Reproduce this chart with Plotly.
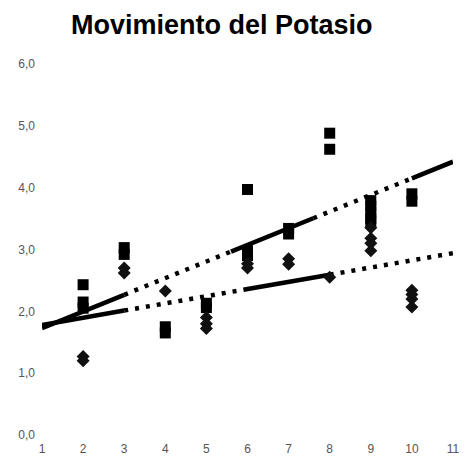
import plotly.graph_objects as go

# Potassium readings per sampling point (squares: series A, diamonds: series B)
sq_x = [2, 2, 2, 3, 3, 4, 4, 5, 5, 6, 6, 6, 7, 7, 8, 8, 9, 9, 9, 9, 9, 10, 10]
sq_y = [2.43, 2.15, 2.05, 3.03, 2.92, 1.75, 1.65, 2.13, 2.06, 3.97, 2.98, 2.90,
        3.34, 3.25, 4.88, 4.62, 3.79, 3.70, 3.60, 3.50, 3.44, 3.90, 3.78]

dm_x = [2, 2, 3, 3, 4, 5, 5, 5, 6, 6, 7, 7, 8, 9, 9, 9, 9, 10, 10, 10, 10]
dm_y = [1.27, 1.20, 2.70, 2.62, 2.33, 1.90, 1.80, 1.72, 2.77, 2.70, 2.85, 2.76,
        2.55, 3.35, 3.18, 3.10, 2.98, 2.34, 2.27, 2.20, 2.07]

# Linear trends (intercept, slope) and the x breakpoints where the
# line style alternates between solid and dotted
trend_a = (1.46, 0.269)
breaks_a = [1, 3, 5.6, 7.6, 10, 11]
trend_b = (1.664, 0.116)
breaks_b = [1, 3, 5.9, 8, 11]

y_ticks = [0, 1, 2, 3, 4, 5, 6]
y_tick_labels = ["0,0", "1,0", "2,0", "3,0", "4,0", "5,0", "6,0"]
x_ticks = [1, 2, 3, 4, 5, 6, 7, 8, 9, 10, 11]
x_tick_labels = ["1", "2", "3", "4", "5", "6", "7", "8", "9", "10", "11"]

fig = go.Figure()


def add_trend(params, breaks):
    a, b = params
    for i in range(len(breaks) - 1):
        x0, x1 = breaks[i], breaks[i + 1]
        solid = i % 2 == 0
        fig.add_trace(go.Scatter(
            x=[x0, x1], y=[a + b * x0, a + b * x1], mode="lines",
            line=dict(color="black", width=4.5,
                      dash="solid" if solid else "4px,7px"),
            hoverinfo="skip", showlegend=False))


add_trend(trend_a, breaks_a)
add_trend(trend_b, breaks_b)

fig.add_trace(go.Scatter(
    x=sq_x, y=sq_y, mode="markers", name="A",
    marker=dict(symbol="square", size=11, color="black", line=dict(width=0))))
fig.add_trace(go.Scatter(
    x=dm_x, y=dm_y, mode="markers", name="B",
    marker=dict(symbol="diamond", size=10, color="#111", line=dict(width=0))))

axis_font = dict(family="Liberation Sans, Arial, sans-serif", size=12, color="#555")

fig.update_layout(
    width=467, height=463,
    margin=dict(l=42, r=7, t=33, b=28),
    paper_bgcolor="white", plot_bgcolor="white",
    showlegend=False,
    title=dict(text="<b>Movimiento del Potasio</b>", x=0.475, xanchor="center",
               y=0.948, yanchor="middle",
               font=dict(family="Liberation Sans, Arial, sans-serif", size=27,
                         color="black")),
    xaxis=dict(range=[1, 11], tickvals=x_ticks, ticktext=x_tick_labels,
               showgrid=False, zeroline=False, showline=False, ticks="",
               ticklabelstandoff=5, tickfont=axis_font),
    yaxis=dict(range=[0, 6.5], tickvals=y_ticks, ticktext=y_tick_labels,
               showgrid=False, zeroline=False, showline=False, ticks="",
               ticklabelstandoff=6, tickfont=axis_font),
)

fig.write_html("out.html")
